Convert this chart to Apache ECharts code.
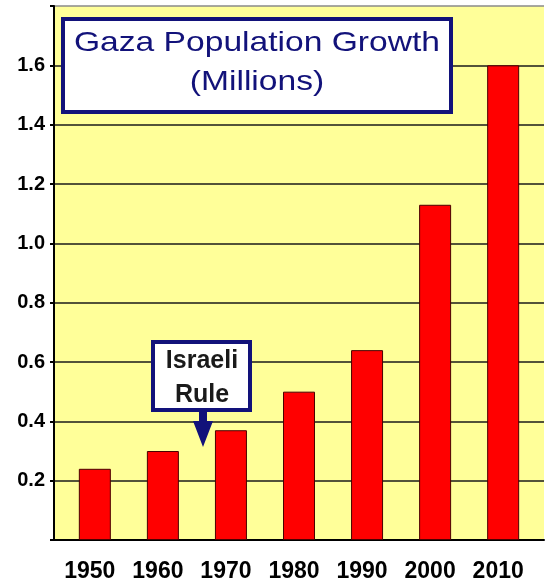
<!DOCTYPE html>
<html>
<head>
<meta charset="utf-8">
<script src="https://cdn.jsdelivr.net/npm/echarts@6/dist/echarts.min.js"></script>
<style>
html,body{margin:0;padding:0;background:#fff;}
#chart{width:547px;height:585px;}
</style>
</head>
<body>
<div id="chart"></div>
<script>
const years = [1950, 1960, 1970, 1980, 1990, 2000, 2010];
const population = [0.24, 0.30, 0.37, 0.50, 0.64, 1.13, 1.60];
const yTicks = [0.2, 0.4, 0.6, 0.8, 1.0, 1.2, 1.4, 1.6];
const titleLines = ['Gaza Population Growth', '(Millions)'];
const noteLines = ['Israeli', 'Rule'];

const navy = '#12127a';
const chart = echarts.init(document.getElementById('chart'), null, {renderer: 'canvas'});

const splitColors = [];
for (let i = 0; i <= 9; i++) splitColors.push(i === 9 ? '#8a8a8a' : '#1a1a1a');

chart.setOption({
  animation: false,
  backgroundColor: '#ffffff',
  grid: {left: 54, right: 0, top: 6, bottom: 45, show: true, backgroundColor: '#ffff99', borderWidth: 0},
  xAxis: {
    type: 'value', min: 1944, max: 2016, interval: 2,
    axisLine: {show: true, lineStyle: {color: '#000', width: 2}},
    axisTick: {show: false},
    splitLine: {show: false},
    axisLabel: {
      margin: 20, color: '#000', fontSize: 23, fontWeight: 'bold', fontFamily: 'Liberation Sans, Arial, sans-serif',
      padding: [0, 10, 0, 0],
      showMinLabel: true, showMaxLabel: true,
      formatter: v => years.indexOf(Math.round(v)) >= 0 ? String(Math.round(v)) : ''
    }
  },
  yAxis: {
    type: 'value', min: 0, max: 1.8, interval: 0.2,
    axisLine: {show: true, lineStyle: {color: '#000', width: 2}},
    axisTick: {show: true, length: 4, lineStyle: {color: '#000', width: 2}},
    splitLine: {show: true, lineStyle: {color: splitColors, width: 1.5}},
    axisLabel: {
      margin: 9, color: '#000', fontSize: 20, fontWeight: 'bold', fontFamily: 'Liberation Sans, Arial, sans-serif',
      formatter: v => yTicks.some(t => Math.abs(t - v) < 1e-6) ? v.toFixed(1) : ''
    }
  },
  series: [{
    type: 'bar',
    barWidth: 32,
    data: years.map((y, i) => [y, population[i]]),
    itemStyle: {color: '#ff0000', borderColor: '#4a0000', borderWidth: 1}
  }],
  graphic: [
    {type: 'rect', z: 100, shape: {x: 63, y: 19, width: 388, height: 93},
     style: {fill: '#ffffff', stroke: navy, lineWidth: 4}},
    {type: 'text', z: 101, x: 257, y: 43, scaleX: 1.2,
     style: {text: titleLines[0], fill: navy, font: '28px "Liberation Sans", Arial, sans-serif', textAlign: 'center', textVerticalAlign: 'middle'}},
    {type: 'text', z: 101, x: 257, y: 82, scaleX: 1.2,
     style: {text: titleLines[1], fill: navy, font: '28px "Liberation Sans", Arial, sans-serif', textAlign: 'center', textVerticalAlign: 'middle'}},
    {type: 'rect', z: 100, shape: {x: 153, y: 342, width: 97, height: 68},
     style: {fill: '#ffffff', stroke: navy, lineWidth: 4}},
    {type: 'text', z: 101, x: 202, y: 361,
     style: {text: noteLines[0], fill: '#1a1a1a', font: 'bold 25px "Liberation Sans", Arial, sans-serif', textAlign: 'center', textVerticalAlign: 'middle'}},
    {type: 'text', z: 101, x: 202, y: 395,
     style: {text: noteLines[1], fill: '#1a1a1a', font: 'bold 25px "Liberation Sans", Arial, sans-serif', textAlign: 'center', textVerticalAlign: 'middle'}},
    {type: 'polygon', z: 100, shape: {points: [[199, 411], [207, 411], [207, 421], [213, 421], [203, 447], [193, 421], [199, 421]]},
     style: {fill: navy}}
  ]
});
</script>
</body>
</html>
